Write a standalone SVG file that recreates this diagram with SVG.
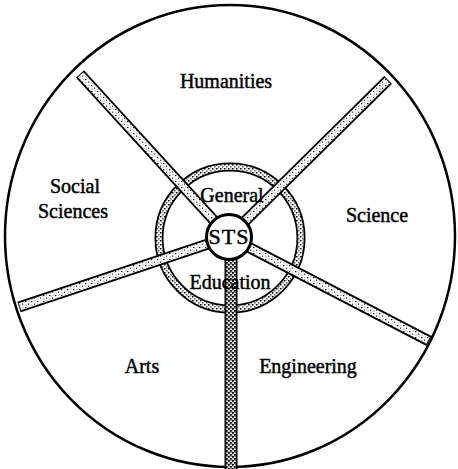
<svg xmlns="http://www.w3.org/2000/svg" width="458" height="469" viewBox="0 0 458 469">
<style>
.lbl{font-family:"Liberation Serif","Times New Roman",serif;font-size:20px;fill:#000;stroke:#000;stroke-width:0.45;text-anchor:middle}
.edge{stroke:#000;stroke-linecap:butt;fill:none}
</style>
<defs>
<pattern id="stip" width="6" height="6" patternUnits="userSpaceOnUse">
<rect width="6" height="6" fill="#fff"/>
<rect x="1" y="1" width="1.4" height="1.2" fill="#111"/>
<rect x="4" y="3.5" width="1.2" height="1.4" fill="#444"/>
<rect x="4.5" y="0.5" width="1" height="1" fill="#777"/>
<rect x="1.5" y="4.5" width="1" height="1" fill="#666"/>
</pattern>
<pattern id="ringp" width="4" height="4" patternUnits="userSpaceOnUse">
<rect width="4" height="4" fill="#fff"/>
<rect x="0" y="0" width="1.5" height="1.5" fill="#000"/>
<rect x="2.2" y="2.2" width="1.3" height="1.3" fill="#222"/>
<rect x="2.5" y="0.3" width="0.8" height="0.8" fill="#777"/>
</pattern>
<pattern id="dark" width="4" height="4" patternUnits="userSpaceOnUse">
<rect width="4" height="4" fill="#fff"/>
<rect x="0" y="0" width="1.8" height="1.8" fill="#000"/>
<rect x="2" y="2" width="1.8" height="1.8" fill="#000"/>
<rect x="2.5" y="0" width="1" height="1" fill="#444"/>
<rect x="0.5" y="2.5" width="1" height="1" fill="#444"/>
</pattern>
</defs>

<g id="outer-circle">
<ellipse cx="230" cy="236" rx="225" ry="231" fill="#fff" stroke="#000" stroke-width="2.5"/>
</g>

<g id="ring">
<circle cx="230" cy="238" r="71" fill="none" stroke="#000" stroke-width="9"/>
<circle cx="230" cy="238" r="71" fill="none" stroke="url(#ringp)" stroke-width="5.5"/>
</g>

<g id="connectors">
<g class="edge" stroke-width="11">
<line x1="229" y1="237" x2="80" y2="74"/>
<line x1="229" y1="237" x2="388" y2="80"/>
<line x1="229" y1="237" x2="19" y2="307"/>
<line x1="229" y1="237" x2="429" y2="341"/>
</g>
<g fill="none" stroke="url(#stip)" stroke-width="7.5">
<line x1="229" y1="237" x2="80.7" y2="74.7"/>
<line x1="229" y1="237" x2="387.3" y2="80.7"/>
<line x1="229" y1="237" x2="19.9" y2="306.7"/>
<line x1="229" y1="237" x2="428.1" y2="340.5"/>
</g>
<line x1="231" y1="237" x2="231" y2="470" stroke="#000" stroke-width="13"/>
<line x1="231" y1="237" x2="231" y2="470" stroke="url(#dark)" stroke-width="9.5"/>
</g>

<g id="sts">
<circle cx="229" cy="237" r="22.5" fill="#fff" stroke="#000" stroke-width="3"/>
<text class="lbl" x="229" y="244" style="font-size:22px;letter-spacing:1px">STS</text>
</g>

<g id="general"><text class="lbl" x="232" y="202">General</text></g>
<g id="education"><text class="lbl" x="230" y="289">Education</text></g>
<g id="humanities"><text class="lbl" x="226" y="88">Humanities</text></g>
<g id="social-sciences">
<text class="lbl" x="75" y="193">Social</text>
<text class="lbl" x="73" y="218">Sciences</text>
</g>
<g id="science"><text class="lbl" x="377" y="222">Science</text></g>
<g id="arts"><text class="lbl" x="142" y="373">Arts</text></g>
<g id="engineering"><text class="lbl" x="308" y="373">Engineering</text></g>
</svg>
